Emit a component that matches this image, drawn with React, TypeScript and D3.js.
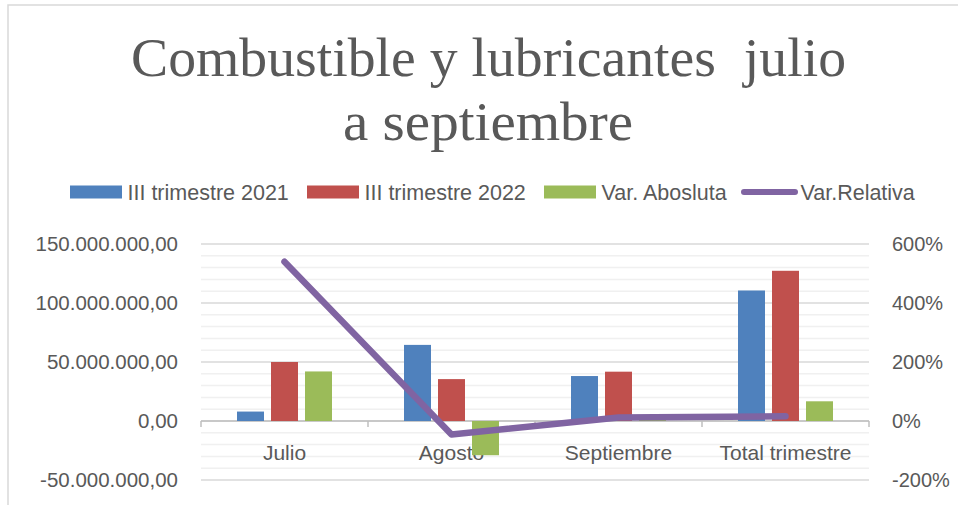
import React from 'react';
import * as d3 from 'd3';

// Data
const categories = ['Julio', 'Agosto', 'Septiembre', 'Total trimestre'];
const seriesNames = ['III trimestre 2021', 'III trimestre 2022', 'Var. Abosluta'];
const trim2021 = [8000000, 64500000, 38100000, 110600000];
const trim2022 = [50000000, 35500000, 41800000, 127300000];
const varAbsoluta = [42000000, -29000000, 3500000, 16700000];
const varRelativa = [5.4, -0.46, 0.12, 0.16];
const leftTicks = [-50000000, 0, 50000000, 100000000, 150000000];
const rightTicks = [-2, 0, 2, 4, 6];

const barColors = ['#4F81BD', '#C0504D', '#9BBB59'];
const lineColor = '#8064A2';
const textColor = '#595959';

const W = 958;
const H = 505;
const PLOT = { left: 201, right: 869, top: 244, bottom: 480 };
const LEGEND_X = [70, 307, 544, 741];

const fmtLeft = (v: number) => {
  const s = d3.format(',.2f')(v);
  // 150,000,000.00 -> 150.000.000,00
  return s.replace(/,/g, '#').replace('.', ',').replace(/#/g, '.').replace('−', '-');
};
const fmtRight = (v: number) => `${Math.round(v * 100)}%`;

const App: React.FC = () => {
  const x = d3.scaleBand<string>().domain(categories).range([PLOT.left, PLOT.right]).padding(0);
  const inner = d3
    .scaleBand<string>()
    .domain(seriesNames)
    .range([-47.5, 47.5])
    .paddingInner(0.206)
    .paddingOuter(0);
  const y = d3.scaleLinear().domain([-50000000, 150000000]).range([PLOT.bottom, PLOT.top]);
  const yR = d3.scaleLinear().domain([-2, 6]).range([PLOT.bottom, PLOT.top]);

  const minorTicks = d3.range(-50000000, 150000001, 10000000);
  const series = [trim2021, trim2022, varAbsoluta];

  const line = d3
    .line<number>()
    .x((_, i) => (x(categories[i]) as number) + x.bandwidth() / 2)
    .y((d) => yR(d));

  const boundaries = [...categories.map((c) => x(c) as number), PLOT.right];
  const sans = '"Liberation Sans", Arial, sans-serif';

  return (
    <svg
      width={W}
      height={H}
      style={{ position: 'absolute', left: 0, top: 0, background: '#fff' }}
    >
      <rect x={8} y={5} width={W + 20} height={H + 20} fill="#fff" stroke="#D9D9D9" strokeWidth={1.5} />

      {/* Title */}
      <g fontFamily='"Liberation Serif", Cambria, serif' fill={textColor} fontSize={55} textAnchor="middle">
        <text x={488.5} y={76} textLength={715} lengthAdjust="spacingAndGlyphs" style={{ whiteSpace: 'pre' }}>
          {'Combustible y lubricantes  julio'}
        </text>
        <text x={488} y={140} textLength={290} lengthAdjust="spacingAndGlyphs">
          a septiembre
        </text>
      </g>

      {/* Legend */}
      <g fontFamily={sans} fontSize={21.5} fill={textColor}>
        {seriesNames.map((name, i) => (
          <g key={name} transform={`translate(${LEGEND_X[i]},0)`}>
            <rect x={0} y={185.5} width={52} height={13} fill={barColors[i]} />
            <text x={57.5} y={199.5}>
              {name}
            </text>
          </g>
        ))}
        <g transform={`translate(${LEGEND_X[3]},0)`}>
          <line x1={3} x2={54} y1={192} y2={192} stroke={lineColor} strokeWidth={6} strokeLinecap="round" />
          <text x={59.5} y={199.5}>
            Var.Relativa
          </text>
        </g>
      </g>

      {/* Grid */}
      {minorTicks.map((t) => (
        <line
          key={`m${t}`}
          x1={PLOT.left}
          x2={PLOT.right}
          y1={y(t)}
          y2={y(t)}
          stroke={t % 50000000 === 0 ? '#D9D9D9' : '#F0F0F0'}
          strokeWidth={1.5}
        />
      ))}

      {/* Left axis labels */}
      <g fontFamily={sans} fontSize={20.5} fill={textColor} textAnchor="end">
        {leftTicks.map((t) => (
          <text key={t} x={178} y={y(t)} dy="0.33em">
            {fmtLeft(t)}
          </text>
        ))}
      </g>

      {/* Right axis labels */}
      <g fontFamily={sans} fontSize={20} fill={textColor} textAnchor="start">
        {rightTicks.map((t) => (
          <text key={t} x={892} y={yR(t)} dy="0.33em">
            {fmtRight(t)}
          </text>
        ))}
      </g>

      {/* Category axis */}
      <line x1={PLOT.left} x2={PLOT.right} y1={y(0)} y2={y(0)} stroke="#BFBFBF" strokeWidth={1.5} />
      {boundaries.map((b, i) => (
        <line key={i} x1={b} x2={b} y1={y(0)} y2={y(0) + 6} stroke="#BFBFBF" strokeWidth={1.5} />
      ))}
      <g fontFamily={sans} fontSize={21} fill={textColor} textAnchor="middle">
        {categories.map((c) => (
          <text key={c} x={(x(c) as number) + x.bandwidth() / 2} y={460}>
            {c}
          </text>
        ))}
      </g>

      {/* Bars */}
      {series.map((vals, s) =>
        vals.map((v, i) => {
          const cx = (x(categories[i]) as number) + x.bandwidth() / 2;
          return (
            <rect
              key={`${s}-${i}`}
              x={cx + (inner(seriesNames[s]) as number)}
              width={inner.bandwidth()}
              y={Math.min(y(v), y(0))}
              height={Math.abs(y(v) - y(0))}
              fill={barColors[s]}
            />
          );
        })
      )}

      {/* Relative variation line */}
      <path
        d={line(varRelativa) || undefined}
        fill="none"
        stroke={lineColor}
        strokeWidth={6.5}
        strokeLinejoin="round"
        strokeLinecap="round"
      />
    </svg>
  );
};

export default App;
